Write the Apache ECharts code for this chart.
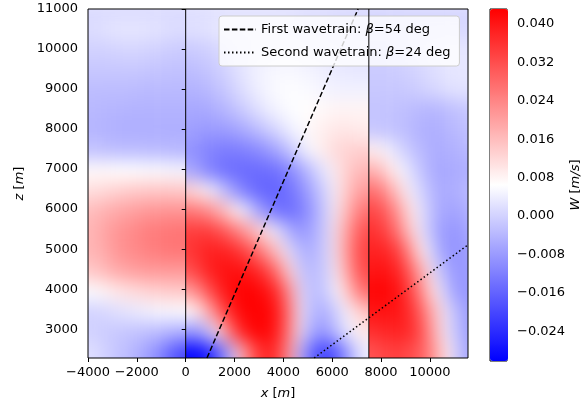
<!DOCTYPE html>
<html><head><meta charset="utf-8">
<script src="https://cdn.jsdelivr.net/npm/echarts@6/dist/echarts.min.js"></script>
<style>
html,body{margin:0;padding:0;background:#fff;}
#wrap{position:relative;width:583px;height:405px;overflow:hidden;}
.clip{position:absolute;overflow:hidden;}
.heat{position:absolute;width:583px;height:405px;filter:blur(9px);}
#main{position:absolute;left:0;top:0;width:583px;height:405px;}
</style></head><body>
<div id="wrap"><div id="main"></div></div>
<script>
// ---- data ----
// cell centres [m]
const xCenters = [-3750,-3250,-2750,-2250,-1750,-1250,-750,-250,250,750,1250,1750,2250,2750,3250,3750,4250,4750,5250,5750,6250,6750,7250,7750,8250,8750,9250,9750,10250,10750,11250,11750];
const zCenters = [11000,10500,10000,9500,9000,8500,8000,7500,7000,6500,6000,5500,5000,4500,4000,3500,3000,2500];
// W in units of 1e-3 m/s, one row per height
const W_z11000 = [1,1,1,1,1,1,1,1, 1.5,1.5,2,2,2,2,2,2, 2,1.5,1.5,1.5,1,1,1, 0.5,0.5,0.5,0.5,0.5,0.5,0.5,0.5,0.5];
const W_z10500 = [1.5,2.5,3,3,3,2.5,2,1.5, 2,2.5,3,3.5,3.5,3.5,3.5,3, 3,2.5,2,2,1.5,1.5,1, 0.5,0.5,1,1,1,1,1,1,1];
const W_z10000 = [0,0,0.5,0.5,0.5,0,-0.5,-1, -1,-0.5,0.5,1.5,2.5,3,3.5,4, 4,3.5,3,3,2.5,2,2, 0,0,0.5,1,2,2.5,3,3,3];
const W_z9500  = [-1.5,-1.5,-1.5,-1.5,-1.5,-2,-2,-2.5, -3,-2,-1,0.5,2.5,4,5,5.5, 5.5,5,4.5,4,3.5,3,3, -1,-1,-0.5,0,1,2,3,3,3];
const W_z9000  = [-3,-3,-3,-3,-3.5,-3.5,-3.5,-3.5, -4.5,-4,-2.5,-1,1.5,3.5,5,6, 6,6,5.5,5,4.5,4.5,4.5, -1.5,-1.5,-1.5,-1,0,1,2,2.5,2.5];
const W_z8500  = [-3.5,-4,-4,-4.5,-4.5,-4.5,-4.5,-4.5, -6,-6,-5,-3.5,-1.5,1,3.5,5, 6,6.5,7,7.5,8,8,8, -2,-2,-2.5,-3,-4,-4,-3,-2,-1];
const W_z8000  = [-4,-4.5,-5,-5,-5,-5,-5,-5, -7,-8,-8,-7.5,-6,-4,-1.5,1, 4,6,8,9,10,10,9, -1.5,-2,-2.5,-3.5,-5,-5,-4,-3,-2];
const W_z7500  = [-2,-2.5,-3,-3,-3,-3.5,-3.5,-4, -9,-11,-12,-12.5,-12,-11,-9,-6, -2,3,7,10,12,13,13, 9,5,1,-2,-4,-5.5,-5,-4,-3.5];
const W_z7000  = [7,7,6.5,6.5,6,6,5.5,5, -5.5,-10,-13,-14.5,-15,-15,-14.5,-14, -11,-6,-1,4,10,15,17, 18,12,6,1,-3,-6,-6,-5,-5];
const W_z6500  = [11,12,13,14,14,14.5,14.5,14, 13,8,2,-5,-11,-14.5,-16,-16, -14,-10,-5,1,9,17,21, 27,22,12,4,-1,-5,-6,-4,-3.5];
const W_z6000  = [16,18,19,20,21,21.5,22,22, 26,24,20,13,6,-3,-10,-14, -15,-12,-7,0,10,20,27, 33,29,20,9,1,-5,-7,-6,-4];
const W_z5500  = [17,20,22,23,24.5,25.5,26,26.5, 34,35,33,29,23,17,10,3, -6,-9,-6,0,12,24,32, 36,33,25,12,2,-6,-9,-8,-5];
const W_z5000  = [17,19,22,23,24,25,26,26, 35,38,39,38,35,30,23,14, 2,-5,-5,0,12,26,34, 38,38,33,21,7,-4,-9,-9,-6];
const W_z4500  = [14,17,18.5,20,20.5,21,21,21, 31,37,40,41,41,39,35,27, 12,-2,-4,-0.5,10,24,33, 40,41,37,29,15,2,-7,-9,-7];
const W_z4000  = [6,8,10,11,12,13,13.5,14, 20,28,36,41,43,43,41,37, 22,1,-4,-1,7,18,28, 42,43,40,33,21,8,-4,-9,-8];
const W_z3500  = [0,1,2,3,4,5,5.5,6, 7,14,26,37,42,43,43,40, 26,3,-5,-5,1,8,16, 40,41,40,36,27,14,2,-6,-8];
const W_z3000  = [0,-1,-1.5,-2,-2.5,-3,-4,-5, -8,-7,8,25,38,42,43,39, 25,3,-9,-8,-2,5,10, 36,38,38,37,30,16,3,-5,-8];
const W_z2500  = [2,-0.5,-2,-3.5,-6,-9,-14,-20, -29,-28,-20,-6,15,32,38,37, 20,-5,-18,-22,-16,-5,4, 31,34,34,32,29,20,8,-4,-7];
const wRows = [W_z11000,W_z10500,W_z10000,W_z9500,W_z9000,W_z8500,W_z8000,W_z7500,W_z7000,W_z6500,W_z6000,W_z5500,W_z5000,W_z4500,W_z4000,W_z3500,W_z3000,W_z2500];

const xTicks = [-4000,-2000,0,2000,4000,6000,8000,10000];
const zTicks = [3000,4000,5000,6000,7000,8000,9000,10000,11000];
const cbTicks = [-0.024,-0.016,-0.008,0.000,0.008,0.016,0.024,0.032,0.040];
const vlineX = [0, 7500];
const wave1Line = [[870,2280],[7060,11000]];
const wave2Line = [[5260,2280],[11560,5107]];
const seriesNames = ['First wavetrain: \u03b2=54 deg','Second wavetrain: \u03b2=24 deg'];

// ---- layout / style ----
const XMIN=-4000, XMAX=11560, ZMIN=2280, ZMAX=11000;
const WMIN=-0.0302, WMAX=0.0431;
const DX=500, DZ=500;
const FONT='DejaVu Sans';
const FS=13;
const GRID={left:88, top:9, width:380, height:352};
const CMAP=['#0000ff','#ffffff','#ff0000'];
const fmtInt = v => (v<0?'\u2212':'') + String(Math.abs(v));
const italicRich = {i:{fontStyle:'italic', fontFamily:FONT, fontSize:FS, color:'#000'}};

const mainDiv = document.getElementById('main');
const main = echarts.init(mainDiv, null, {renderer:'canvas', devicePixelRatio:1});
main.setOption({
  animation:false,
  textStyle:{fontFamily:FONT},
  grid:[
    Object.assign({show:true, borderColor:'#000', borderWidth:1, backgroundColor:'transparent'}, GRID),
    {left:490, top:9, width:18, height:352, show:true, borderColor:'#000', borderWidth:1, backgroundColor:'transparent'}
  ],
  xAxis:[
    {type:'value', gridIndex:0, min:XMIN, max:XMAX,
     axisLine:{show:false}, splitLine:{show:false},
     axisTick:{show:true, length:4, customValues:xTicks, lineStyle:{color:'#000'}},
     axisLabel:{customValues:xTicks, margin:8, fontSize:FS, color:'#000', fontFamily:FONT, formatter:fmtInt},
     name:'{i|x} [{i|m}]', nameLocation:'middle', nameGap:29,
     nameTextStyle:{fontSize:FS, color:'#000', fontFamily:FONT, rich:italicRich}},
    {type:'value', gridIndex:1, min:0, max:1, show:false}
  ],
  yAxis:[
    {type:'value', gridIndex:0, min:ZMIN, max:ZMAX,
     axisLine:{show:false}, splitLine:{show:false},
     axisTick:{show:true, length:4, customValues:zTicks, lineStyle:{color:'#000'}},
     axisLabel:{customValues:zTicks, margin:10, fontSize:FS, color:'#000', fontFamily:FONT, formatter:fmtInt},
     name:'{i|z} [{i|m}]', nameLocation:'middle', nameGap:52, nameRotate:90,
     nameTextStyle:{fontSize:FS, color:'#000', fontFamily:FONT, rich:italicRich}},
    {type:'value', gridIndex:1, min:WMIN, max:WMAX, position:'right',
     axisLine:{show:false}, splitLine:{show:false},
     axisTick:{show:true, length:4, customValues:cbTicks, lineStyle:{color:'#000'}},
     axisLabel:{customValues:cbTicks, margin:10, fontSize:FS, color:'#000', fontFamily:FONT,
       formatter:v=>(v< -1e-9?'\u2212':'')+Math.abs(v).toFixed(3)},
     name:'{i|W} [{i|m/s}]', nameLocation:'middle', nameGap:56, nameRotate:90,
     nameTextStyle:{fontSize:FS, color:'#000', fontFamily:FONT, rich:italicRich}}
  ],
  visualMap:{type:'continuous', seriesIndex:[], min:WMIN, max:WMAX, show:true,
    left:490, top:9, itemWidth:18, itemHeight:352, padding:0, calculable:false,
    inRange:{color:CMAP}, hoverLink:false},
  legend:{left:219, top:16, orient:'vertical', itemWidth:32, itemHeight:14, itemGap:10,
    padding:[7,9,7,4], backgroundColor:'rgba(255,255,255,0.8)', borderColor:'#cccccc', borderWidth:1, borderRadius:3,
    selectedMode:false, data:seriesNames, itemStyle:{opacity:0},
    formatter:n=>n.replace('\u03b2','{i|\u03b2}'),
    textStyle:{fontSize:FS, color:'#000', fontFamily:FONT, rich:italicRich}},
  series:[
    {name:seriesNames[0], type:'line', xAxisIndex:0, yAxisIndex:0, data:wave1Line, symbol:'none', silent:true, z:3,
     lineStyle:{color:'#000', width:1.5, type:[5.5,2.4]}, itemStyle:{color:'#000'}},
    {name:seriesNames[1], type:'line', xAxisIndex:0, yAxisIndex:0, data:wave2Line, symbol:'none', silent:true, z:3,
     lineStyle:{color:'#000', width:1.5, type:[1.5,2.5]}, itemStyle:{color:'#000'}}
  ].concat(vlineX.map(x=>({type:'line', xAxisIndex:0, yAxisIndex:0, data:[[x,ZMIN],[x,ZMAX]], symbol:'none', silent:true, z:10,
     lineStyle:{color:'#000', width:1}})))
});

// ---- field layers: one per region between the vertical lines ----
const zones = [[XMIN,0,0,7],[0,7500,8,22],[7500,XMAX,23,31]];
const wrap = document.getElementById('wrap');
zones.forEach(([xa,xb,c0,c1])=>{
  const pA = main.convertToPixel({gridIndex:0},[xa,ZMAX]);
  const pB = main.convertToPixel({gridIndex:0},[xb,ZMIN]);
  const clip = document.createElement('div');
  clip.className='clip';
  clip.style.left=pA[0]+'px'; clip.style.top=pA[1]+'px';
  clip.style.width=(pB[0]-pA[0])+'px'; clip.style.height=(pB[1]-pA[1])+'px';
  const heat = document.createElement('div');
  heat.className='heat';
  heat.style.left=(-pA[0])+'px'; heat.style.top=(-pA[1])+'px';
  clip.appendChild(heat);
  wrap.insertBefore(clip, mainDiv);
  const data=[];
  zCenters.forEach((z,r)=>{ for(let c=c0;c<=c1;c++) data.push([xCenters[c], z, wRows[r][c]/1000]); });
  const ch = echarts.init(heat, null, {renderer:'canvas', devicePixelRatio:1});
  ch.setOption({
    animation:false,
    grid:GRID,
    xAxis:{type:'value', min:XMIN, max:XMAX, show:false},
    yAxis:{type:'value', min:ZMIN, max:ZMAX, show:false},
    visualMap:{show:false, type:'continuous', min:WMIN, max:WMAX, dimension:2, seriesIndex:0, inRange:{color:CMAP}},
    series:[{type:'custom', clip:false, silent:true, data:data,
      renderItem:(params, api)=>{
        const x=api.value(0), z=api.value(1);
        const p0=api.coord([x-DX/2, z+DZ/2]);
        const p1=api.coord([x+DX/2, z-DZ/2]);
        let l=p0[0], t=p0[1], r=p1[0], b=p1[1];
        const E=40;
        if(x-DX/2<=xa) l-=E;
        if(x+DX/2>=xb) r+=E;
        if(z+DZ/2>=ZMAX) t-=E;
        if(z-DZ/2<=ZMIN) b+=E;
        return {type:'rect', shape:{x:l, y:t, width:r-l+0.6, height:b-t+0.6}, style:{fill:api.visual('color')}};
      }}]
  });
});
</script>
</body></html>
